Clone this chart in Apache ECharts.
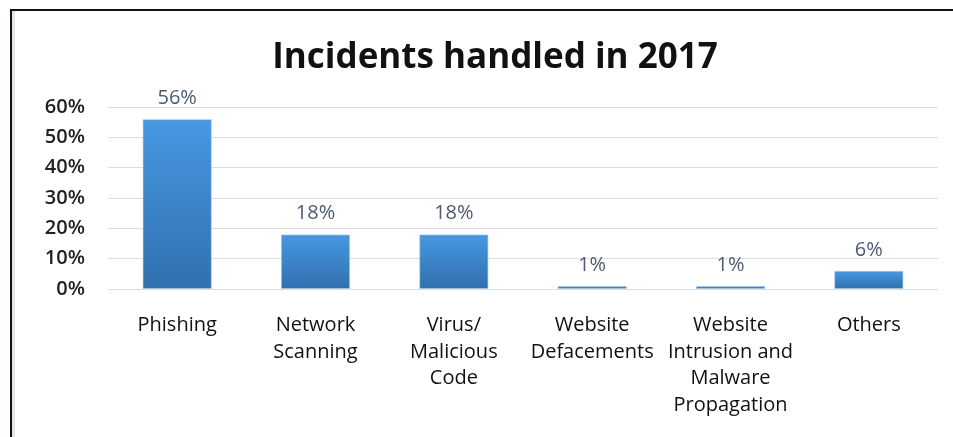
<!DOCTYPE html>
<html>
<head>
<meta charset="utf-8">
<script src="https://cdn.jsdelivr.net/npm/echarts@6/dist/echarts.min.js"></script>
<style>
html,body{margin:0;padding:0;background:#fff;}
#frame{position:absolute;left:10px;top:9px;width:943px;height:428px;border-top:2px solid #111;border-left:2px solid #111;box-sizing:border-box;}
#frame:after{content:"";position:absolute;left:0;top:0;width:3px;height:100%;background:#e2e6ea;}
#chart{position:absolute;left:0;top:0;width:953px;height:437px;}
</style>
</head>
<body>
<div id="frame"></div>
<div id="chart"></div>
<script>
const titleText = 'Incidents handled in 2017';
const categories = ['Phishing', 'Network\nScanning', 'Virus/\nMalicious\nCode', 'Website\nDefacements', 'Website\nIntrusion and\nMalware\nPropagation', 'Others'];
const values = [56, 18, 18, 1, 1, 6];
const yMin = 0, yMax = 60, yInterval = 10;

const FONT = '"Open Sans", sans-serif';
const chart = echarts.init(document.getElementById('chart'), null, {renderer: 'canvas'});
chart.setOption({
  backgroundColor: 'transparent',
  animation: false,
  title: {
    text: titleText,
    left: 490,
    top: 36,
    textAlign: 'center',
    textStyle: {fontFamily: FONT, fontSize: 35, fontWeight: 'bold', color: '#111'}
  },
  grid: {left: 108, right: 15, top: 107, bottom: 148, containLabel: false},
  xAxis: {
    type: 'category',
    data: categories,
    axisLine: {show: false},
    axisTick: {show: false},
    axisLabel: {interval: 0, margin: 23, fontFamily: FONT, fontSize: 20, lineHeight: 26.7, color: '#111'}
  },
  yAxis: {
    type: 'value',
    min: yMin, max: yMax, interval: yInterval,
    axisLine: {show: false},
    axisTick: {show: false},
    splitLine: {lineStyle: {color: '#dcdde4', width: 1}},
    axisLabel: {formatter: '{value}%', margin: 23, fontFamily: FONT, fontSize: 20, fontWeight: 600, color: '#222'}
  },
  series: [{
    type: 'bar',
    data: values,
    barWidth: '50%',
    itemStyle: {
      color: new echarts.graphic.LinearGradient(0, 0, 0, 1, [
        {offset: 0, color: '#4798e2'},
        {offset: 1, color: '#3070ae'}
      ]),
      borderColor: 'rgba(170,200,235,0.6)',
      borderWidth: 1
    },
    label: {
      show: true, position: 'top', distance: 11,
      formatter: '{c}%',
      fontFamily: FONT, fontSize: 20, color: '#4d5a72'
    }
  }]
});
</script>
</body>
</html>
